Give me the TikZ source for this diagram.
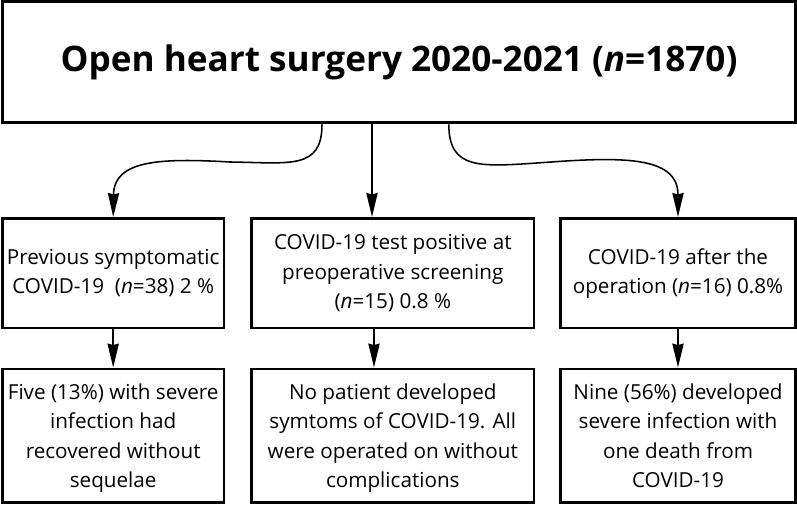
\documentclass[tikz,border=0pt]{standalone}
\usepackage{fontspec}
\setmainfont{Open Sans}
\usetikzlibrary{arrows.meta,positioning}

\begin{document}
\begin{tikzpicture}[->,>={Stealth[length=17pt,width=8pt,inset=1pt]},line width=1.1pt,
  box node/.style={draw,line width=2.1pt,align=center,inner sep=0pt,font=\fontsize{14.7}{20.8}\selectfont},
  mid node/.style={box node,minimum height=2.74cm},
  low node/.style={box node,minimum height=3.33cm,text depth=0pt}]
\useasboundingbox (0,0) rectangle (19.925,-12.625);
\node[box node,minimum width=19.825cm,minimum height=3.04cm,font=\fontsize{25}{30}\selectfont\bfseries] (surgery) at (9.975,-1.55) {Open heart surgery 2020-2021 (\textit{n}=1870)};
\node[mid node,minimum width=5.54cm] (previous) at (2.83,-6.83) {Previous symptomatic\\COVID-19\ \ (\textit{n}=38) 2 \%};
\node[mid node,minimum width=7.06cm] (screening) at (9.82,-6.83) {COVID-19 test positive at\\preoperative screening\\(\textit{n}=15) 0.8 \%};
\node[mid node,minimum width=5.875cm] (after) at (16.95,-6.83) {COVID-19 after the\\operation (\textit{n}=16) 0.8\%};
\node[low node,minimum width=5.54cm] (recovered) at (2.83,-10.89) {Five (13\%) with severe\\infection had\\recovered without\\sequelae};
\node[low node,minimum width=7.06cm] (nosymptoms) at (9.82,-10.89) {No patient developed\\symtoms of COVID-19. All\\were operated on without\\complications};
\node[low node,minimum width=5.875cm] (severe) at (16.95,-10.89) {Nine (56\%) developed\\severe infection with\\one death from\\COVID-19};
% curved connectors
\coordinate (lstart) at (8.05,0);
\coordinate (lmid) at (5.75,-4.05);
\coordinate (rstart) at (11.22,0);
\coordinate (rmid) at (13.5,-4.07);
\coordinate (cx) at (9.3,0);
\draw (surgery.south -| lstart) .. controls (8.05,-4.25) and (7.25,-4.07) .. (lmid) .. controls (4.0,-3.95) and (2.85,-4.0) .. (previous.north);
\draw (surgery.south -| cx) -- (previous.north -| cx);
\draw (surgery.south -| rstart) .. controls (11.22,-4.25) and (12.0,-4.17) .. (rmid) .. controls (15.5,-3.92) and (16.95,-3.88) .. (after.north);
% straight connectors
\draw (previous) -- (recovered);
\draw (screening.south -| 9.35,0) -- (nosymptoms.north -| 9.35,0);
\draw (after) -- (severe);
\end{tikzpicture}
\end{document}
